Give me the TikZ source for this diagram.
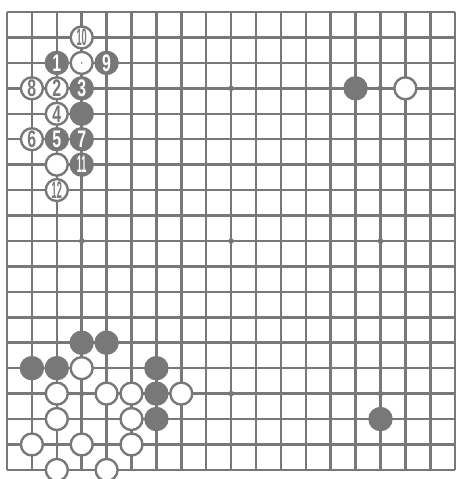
\documentclass[tikz,border=0pt]{standalone}
\usepackage{fontspec}
\setmainfont{Liberation Sans}
\definecolor{ink}{gray}{0.47}
\newcommand{\mv}[1]{\scalebox{0.66}[1]{#1}}
\newcommand{\mvv}[1]{\scalebox{0.38}[1]{#1}}

\begin{document}
\begin{tikzpicture}[
		x=24.9pt, y=-25.44pt,
		gridline/.style={draw=ink, line width=2.5pt, line cap=square},
		hoshi/.style={fill=ink},
		wstone/.style={circle, draw=ink, line width=2.4pt, fill=white, minimum size=22pt, inner sep=0pt, text=ink, font=\fontsize{24}{24}\selectfont\bfseries},
		bstone/.style={wstone, fill=ink, text=white}
		]
		\useasboundingbox (-0.281,-0.472) rectangle (18.112,18.357);
		
		% --- BOARD ---
		\foreach \i in {0,...,18} {
			\draw[gridline] (\i,0) -- (\i,18);
			\draw[gridline] (0,\i) -- (18,\i);
		}
		\foreach \a in {3,9,15} {
			\foreach \b in {3,9,15} {
				\fill[hoshi] (\a,\b) circle (2.8pt);
			}
		}
		
		% --- UPPER LEFT: NUMBERED MOVES ---
		\node[bstone] (b1) at (2,2) {\mv{1}};
		\node[wstone] (w2) at (2,3) {\mv{2}};
		\node[bstone] (b3) at (3,3) {\mv{3}};
		\node[wstone] (w4) at (2,4) {\mv{4}};
		\node[bstone] (b5) at (2,5) {\mv{5}};
		\node[wstone] (w6) at (1,5) {\mv{6}};
		\node[bstone] (b7) at (3,5) {\mv{7}};
		\node[wstone] (w8) at (1,3) {\mv{8}};
		\node[bstone] (b9) at (4,2) {\mv{9}};
		\node[wstone] (w10) at (3,1) {\mvv{10}};
		\node[bstone] (b11) at (3,6) {\mvv{11}};
		\node[wstone] (w12) at (2,7) {\mvv{12}};
		% unnumbered stones
		\node[wstone] (wa) at (3,2) {};
		\fill[ink] (wa.center) circle (0.9pt);
		\node[bstone] (ba) at (3,4) {};
		\node[wstone] (wb) at (2,6) {};
		
		% --- UPPER RIGHT ---
		\node[bstone] (ur1) at (14,3) {};
		\node[wstone] (ur2) at (16,3) {};
		
		% --- LOWER RIGHT ---
		\node[bstone] (lr1) at (15,16) {};
		
		% --- LOWER LEFT ---
		\foreach \c/\r [count=\k] in {3/13, 4/13, 1/14, 2/14, 6/14, 6/15, 6/16} {
			\node[bstone] (ll_b\k) at (\c,\r) {};
		}
		\foreach \c/\r [count=\k] in {3/14, 2/15, 4/15, 5/15, 7/15, 2/16, 5/16, 1/17, 3/17, 5/17, 2/18, 4/18} {
			\node[wstone] (ll_w\k) at (\c,\r) {};
		}
		
	\end{tikzpicture}
\end{document}
